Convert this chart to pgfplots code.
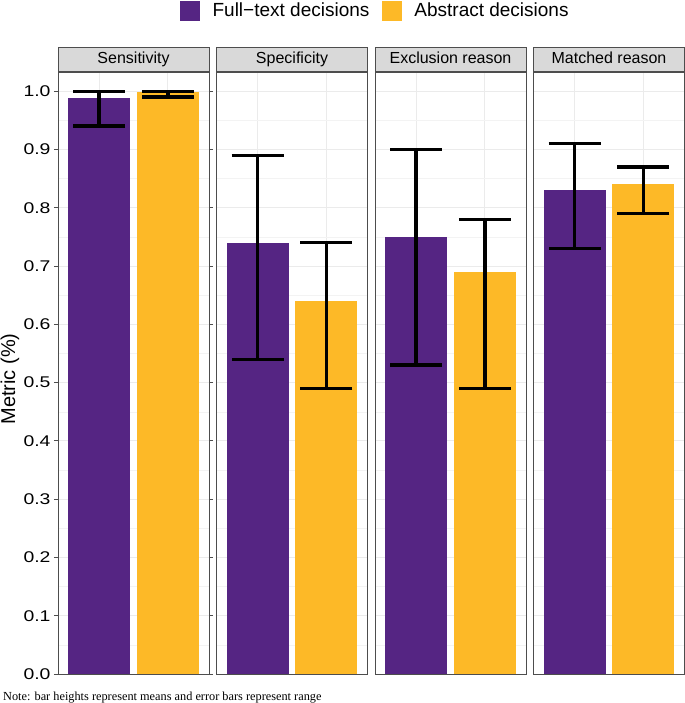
\documentclass[border=0pt]{standalone}
\usepackage{pgfplots}
\pgfplotsset{compat=1.18}
\usepackage{fontspec}
\setmainfont{Liberation Sans}
\newfontfamily\notefont{Liberation Serif}
\newfontfamily\tickfont[FakeStretch=1.25]{Liberation Sans}
\definecolor{lpurple}{HTML}{552583}
\definecolor{lgold}{HTML}{FDB927}
\definecolor{bordergray}{HTML}{4D4D4D}
\definecolor{gridmajor}{HTML}{EBEBEB}
\definecolor{gridminor}{HTML}{F3F3F3}
\definecolor{stripfill}{HTML}{D9D9D9}

\pgfplotsset{
  panel/.style={
    scale only axis, width=151bp, height=602bp,
    xmin=0.4, xmax=2.6, ymin=0, ymax=1.033,
    anchor=south west,
    axis line style={draw=bordergray, line width=0.9bp},
    xtick={1,2}, xticklabels={},
    ytick={0,0.1,0.2,0.3,0.4,0.5,0.6,0.7,0.8,0.9,1.0},
    minor ytick={0.05,0.15,0.25,0.35,0.45,0.55,0.65,0.75,0.85,0.95},
    xmajorgrids, ymajorgrids, yminorgrids,
    major grid style={draw=gridmajor, line width=0.9bp},
    minor grid style={draw=gridminor, line width=0.5bp},
    major x tick style={draw=none},
    minor tick length=0pt,
    tick align=outside,
    ybar, bar width=0.9, bar shift=0pt,
    error bars/y dir=both,
    error bars/y explicit,
    error bars/error bar style={draw=black, line width=3.4bp},
    error bars/error mark options={draw=black, line width=3.4bp, mark size=26bp, rotate=90},
    title style={at={(0.5,1)}, anchor=south, yshift=-6pt,
      fill=stripfill, draw=bordergray, line width=0.9bp,
      minimum width=151bp, minimum height=24bp, inner sep=0pt,
      text height=11.5bp, text depth=3.5bp,
      font=\fontsize{16bp}{18bp}\selectfont},
  },
  inner/.style={yticklabels={}, major y tick style={draw=none}, major tick length=0pt},
}

\begin{document}
\begin{tikzpicture}
\path[use as bounding box] (0,0) rectangle (685bp,703bp);

\begin{axis}[panel, at={(58bp,29bp)}, title={Sensitivity},
  major tick length=4bp,
  major y tick style={draw=bordergray, line width=0.9bp},
  yticklabel style={font=\tickfont\fontsize{15.5bp}{18bp}\selectfont},
  /pgf/number format/assume math mode=true,
  yticklabel={\pgfmathprintnumber[fixed, fixed zerofill, precision=1]{\tick}},
  ylabel={Metric (\%)},
  ylabel style={at={(axis description cs:-0.318,0.49)}, anchor=center,
    font=\fontsize{20bp}{24bp}\selectfont},
  legend columns=2,
  legend image code/.code={\fill[#1] (0bp,-10bp) rectangle (20bp,10bp);},
  legend style={at={(2.095,1.1021)}, anchor=center, draw=none, fill=none,
    inner sep=0pt, column sep=12.5bp, nodes={inner sep=0pt},
    font=\fontsize{19bp}{22bp}\selectfont},
]
\addplot[fill=lpurple, draw=none] coordinates {(1,0.989) += (0,0.011) -= (0,0.049)};
\addlegendentry{Full\textminus text decisions}
\addplot[fill=lgold, draw=none] coordinates {(2,0.998) += (0,0.002) -= (0,0.008)};
\addlegendentry{Abstract decisions}
\end{axis}

\begin{axis}[panel, inner, at={(216.5bp,29bp)}, title={Specificity}]
\addplot[fill=lpurple, draw=none] coordinates {(1,0.74) += (0,0.15) -= (0,0.20)};
\addplot[fill=lgold, draw=none] coordinates {(2,0.64) += (0,0.10) -= (0,0.15)};
\end{axis}

\begin{axis}[panel, inner, at={(375bp,29bp)}, title={Exclusion reason}]
\addplot[fill=lpurple, draw=none] coordinates {(1,0.75) += (0,0.15) -= (0,0.22)};
\addplot[fill=lgold, draw=none] coordinates {(2,0.69) += (0,0.09) -= (0,0.20)};
\end{axis}

\begin{axis}[panel, inner, at={(533.5bp,29bp)}, title={Matched reason}]
\addplot[fill=lpurple, draw=none] coordinates {(1,0.83) += (0,0.08) -= (0,0.10)};
\addplot[fill=lgold, draw=none] coordinates {(2,0.84) += (0,0.03) -= (0,0.05)};
\end{axis}

\node[anchor=base west, inner sep=0pt, font=\notefont\fontsize{12.3bp}{14bp}\selectfont]
  at (3bp,3bp) {Note: bar heights represent means and error bars represent range};
\end{tikzpicture}
\end{document}
